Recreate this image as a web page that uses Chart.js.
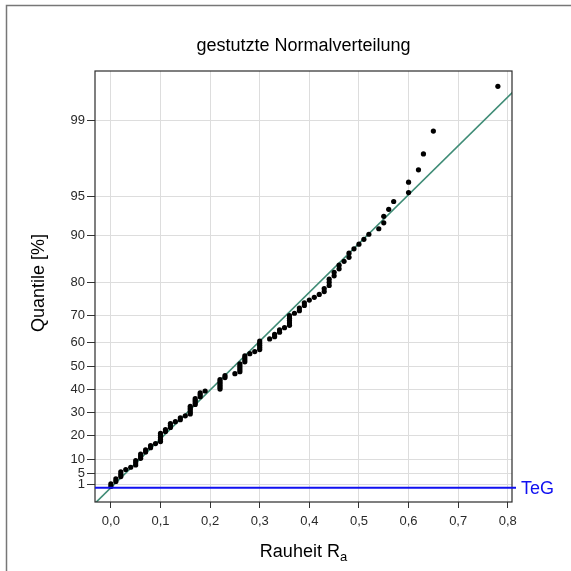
<!DOCTYPE html>
<html>
<head>
<meta charset="utf-8">
<script src="https://cdn.jsdelivr.net/npm/chart.js@4.4.1/dist/chart.umd.min.js"></script>
<style>
  html, body { margin: 0; padding: 0; background: #fff; }
  #wrap { width: 571px; height: 571px; }
</style>
</head>
<body>
<div id="wrap"><canvas id="qq" width="571" height="571"></canvas></div>
<script>
// Rauheit Ra, sortiert
var raValues = [
  0.00, 0.00, 0.01, 0.01, 0.02, 0.02, 0.02, 0.03, 0.04, 0.05,
  0.05, 0.05, 0.06, 0.06, 0.06, 0.07, 0.07, 0.08, 0.08, 0.09,
  0.10, 0.10, 0.10, 0.10, 0.10, 0.11, 0.11, 0.12, 0.12, 0.12,
  0.13, 0.14, 0.14, 0.15, 0.16, 0.16, 0.16, 0.16, 0.16, 0.17,
  0.17, 0.17, 0.17, 0.18, 0.18, 0.18, 0.19, 0.22, 0.22, 0.22,
  0.22, 0.22, 0.22, 0.23, 0.23, 0.25, 0.26, 0.26, 0.26, 0.26,
  0.26, 0.27, 0.27, 0.27, 0.27, 0.28, 0.29, 0.30, 0.30, 0.30,
  0.30, 0.30, 0.32, 0.33, 0.33, 0.34, 0.34, 0.35, 0.36, 0.36,
  0.36, 0.36, 0.36, 0.37, 0.38, 0.38, 0.39, 0.39, 0.40, 0.41,
  0.42, 0.43, 0.43, 0.44, 0.44, 0.44, 0.45, 0.45, 0.46, 0.46,
  0.47, 0.48, 0.48, 0.49, 0.50, 0.51, 0.52, 0.54, 0.55, 0.55,
  0.56, 0.57, 0.60, 0.60, 0.62, 0.63, 0.65, 0.78
];
// Quantile in %
var quantilePct = [
  0.42, 1.27, 2.12, 2.97, 3.81, 4.66, 5.51, 6.36, 7.20, 8.05,
  8.90, 9.75, 10.59, 11.44, 12.29, 13.14, 13.98, 14.83, 15.68, 16.53,
  17.37, 18.22, 19.07, 19.92, 20.76, 21.61, 22.46, 23.31, 24.15, 25.00,
  25.85, 26.69, 27.54, 28.39, 29.24, 30.08, 30.93, 31.78, 32.63, 33.47,
  34.32, 35.17, 36.02, 36.86, 37.71, 38.56, 39.41, 40.25, 41.10, 41.95,
  42.80, 43.64, 44.49, 45.34, 46.19, 47.03, 47.88, 48.73, 49.58, 50.42,
  51.27, 52.12, 52.97, 53.81, 54.66, 55.51, 56.36, 57.20, 58.05, 58.90,
  59.75, 60.59, 61.44, 62.29, 63.14, 63.98, 64.83, 65.68, 66.53, 67.37,
  68.22, 69.07, 69.92, 70.76, 71.61, 72.46, 73.31, 74.15, 75.00, 75.85,
  76.69, 77.54, 78.39, 79.24, 80.08, 80.93, 81.78, 82.63, 83.47, 84.32,
  85.17, 86.02, 86.86, 87.71, 88.56, 89.41, 90.25, 91.10, 91.95, 92.80,
  93.64, 94.49, 95.34, 96.19, 97.03, 97.88, 98.73, 99.58
];
var yTickPct = [1, 5, 10, 20, 30, 40, 50, 60, 70, 80, 90, 95, 99];
var xTickVals = [0, 0.1, 0.2, 0.3, 0.4, 0.5, 0.6, 0.7, 0.8];

var cutShare = 0.22;      // Anteil der Normalverteilung unterhalb TeG
var fitMean = 0.1818;
var fitSd = 0.2355;
var fitRange = [-0.1, 0.9];

var FONT = "'Liberation Sans', Arial, sans-serif";

// inverse Normalverteilung (Acklam)
function probit(p) {
  var a = [-3.969683028665376e+01, 2.209460984245205e+02, -2.759285104469687e+02, 1.383577518672690e+02, -3.066479806614716e+01, 2.506628277459239e+00];
  var b = [-5.447609879822406e+01, 1.615858368580409e+02, -1.556989798598866e+02, 6.680131188771972e+01, -1.328068155288572e+01];
  var c = [-7.784894002430293e-03, -3.223964580411365e-01, -2.400758277161838e+00, -2.549732539343734e+00, 4.374664141464968e+00, 2.938163982698783e+00];
  var d = [7.784695709041462e-03, 3.224671290700398e-01, 2.445134137142996e+00, 3.754408661907416e+00];
  var plow = 0.02425, q, r;
  if (p < plow) {
    q = Math.sqrt(-2 * Math.log(p));
    return (((((c[0]*q+c[1])*q+c[2])*q+c[3])*q+c[4])*q+c[5]) / ((((d[0]*q+d[1])*q+d[2])*q+d[3])*q+1);
  }
  if (p <= 1 - plow) {
    q = p - 0.5; r = q * q;
    return (((((a[0]*r+a[1])*r+a[2])*r+a[3])*r+a[4])*r+a[5])*q / (((((b[0]*r+b[1])*r+b[2])*r+b[3])*r+b[4])*r+1);
  }
  q = Math.sqrt(-2 * Math.log(1 - p));
  return -(((((c[0]*q+c[1])*q+c[2])*q+c[3])*q+c[4])*q+c[5]) / ((((d[0]*q+d[1])*q+d[2])*q+d[3])*q+1);
}
// Prozent der gestutzten Verteilung -> Achsenwert
function pctToZ(pct) {
  return probit(cutShare + pct / 100 * (1 - cutShare));
}

var points = [];
for (var i = 0; i < raValues.length; i++) {
  points.push({ x: raValues[i], y: pctToZ(quantilePct[i]) });
}
var fitLine = fitRange.map(function (r) {
  return { x: r, y: (r - fitMean) / fitSd };
});

var framePlugin = {
  id: 'frame',
  beforeDraw: function (chart) {
    var ctx = chart.ctx;
    ctx.save();
    ctx.fillStyle = '#fff';
    ctx.fillRect(0, 0, chart.width, chart.height);
    ctx.strokeStyle = '#777';
    ctx.lineWidth = 1.5;
    ctx.beginPath();
    ctx.moveTo(6.5, chart.height);
    ctx.lineTo(6.5, 5.5);
    ctx.lineTo(chart.width, 5.5);
    ctx.stroke();
    ctx.restore();
  },
  afterDraw: function (chart) {
    var ctx = chart.ctx, a = chart.chartArea;
    var yS = chart.scales.y;
    var cx = (a.left + a.right) / 2;
    ctx.save();
    // Rahmen
    ctx.strokeStyle = '#2b2b2b';
    ctx.lineWidth = 1.2;
    ctx.strokeRect(a.left, a.top, a.right - a.left, a.bottom - a.top);

    // TeG
    var yt = yS.getPixelForValue(pctToZ(0));
    ctx.strokeStyle = '#1010f0';
    ctx.lineWidth = 2;
    ctx.beginPath();
    ctx.moveTo(a.left, yt);
    ctx.lineTo(a.right + 4, yt);
    ctx.stroke();
    ctx.fillStyle = '#1010f0';
    ctx.font = '18px ' + FONT;
    ctx.textAlign = 'left';
    ctx.textBaseline = 'middle';
    ctx.fillText('TeG', a.right + 9, yt + 1);

    // Titel
    ctx.fillStyle = '#000';
    ctx.textAlign = 'center';
    ctx.font = '18px ' + FONT;
    ctx.fillText('gestutzte Normalverteilung', cx, 46);

    // y-Titel
    ctx.save();
    ctx.translate(39, 283);
    ctx.rotate(-Math.PI / 2);
    ctx.font = '18px ' + FONT;
    ctx.fillText('Quantile [%]', 0, 0);
    ctx.restore();

    // x-Titel mit Index
    ctx.textBaseline = 'alphabetic';
    ctx.textAlign = 'left';
    ctx.font = '18px ' + FONT;
    var main = 'Rauheit R';
    var w1 = ctx.measureText(main).width;
    ctx.font = '13px ' + FONT;
    var w2 = ctx.measureText('a').width;
    var x0 = cx - (w1 + w2) / 2;
    ctx.font = '18px ' + FONT;
    ctx.fillText(main, x0, 557);
    ctx.font = '13px ' + FONT;
    ctx.fillText('a', x0 + w1, 561);
    ctx.restore();
  }
};

new Chart(document.getElementById('qq'), {
  type: 'scatter',
  data: {
    datasets: [
      {
        label: 'Messwerte',
        data: points,
        pointRadius: 2.6,
        pointBackgroundColor: '#000',
        pointBorderWidth: 0,
        order: 1
      },
      {
        type: 'line',
        label: 'Anpassung',
        data: fitLine,
        borderColor: '#3f8c76',
        borderWidth: 1.6,
        pointRadius: 0,
        fill: false,
        order: 2
      }
    ]
  },
  options: {
    responsive: false,
    animation: false,
    devicePixelRatio: 1,
    layout: { padding: { top: 71, left: 0, right: 59, bottom: 29 } },
    plugins: {
      legend: { display: false },
      title: { display: false },
      tooltip: { enabled: false }
    },
    scales: {
      x: {
        type: 'linear',
        min: -0.032,
        max: 0.8085,
        afterBuildTicks: function (s) {
          s.ticks = xTickVals.map(function (v) { return { value: v }; });
        },
        afterFit: function (s) { s.height = 40; },
        ticks: {
          callback: function (v) { return v.toFixed(1).replace('.', ','); },
          font: { size: 13, family: FONT },
          color: '#2a2a2a',
          padding: 6,
          maxRotation: 0,
          autoSkip: false
        },
        grid: { color: '#dddddd', lineWidth: 1, tickColor: '#333', tickLength: 6 },
        border: { display: false }
      },
      y: {
        type: 'linear',
        min: -0.8965,
        max: 2.852,
        afterBuildTicks: function (s) {
          s.ticks = yTickPct.map(function (p) { return { value: pctToZ(p) }; });
        },
        afterFit: function (s) { s.width = 95; },
        ticks: {
          callback: function (v, idx) { return String(yTickPct[idx]); },
          font: { size: 13, family: FONT },
          color: '#2a2a2a',
          padding: 2,
          autoSkip: false
        },
        grid: { color: '#dddddd', lineWidth: 1, tickColor: '#333', tickLength: 8 },
        border: { display: false }
      }
    }
  },
  plugins: [framePlugin]
});
</script>
</body>
</html>
